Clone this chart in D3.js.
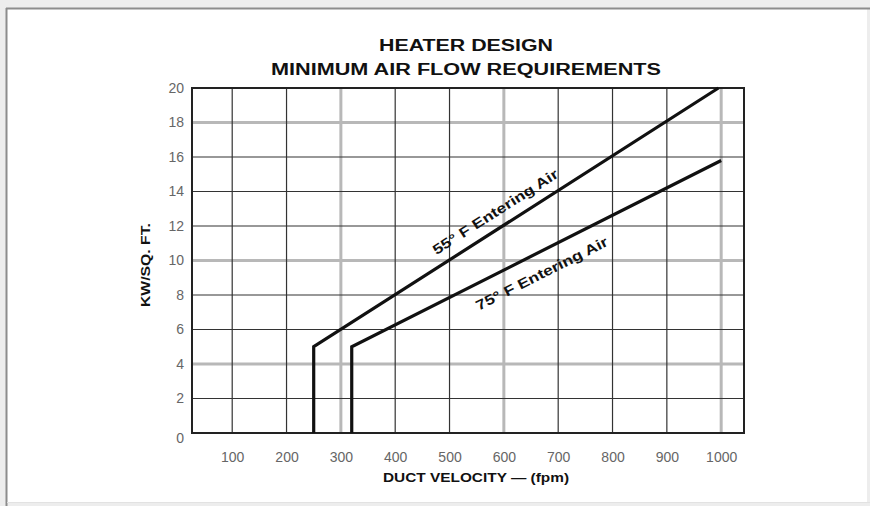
<!DOCTYPE html>
<html><head><meta charset="utf-8">
<script src="https://cdn.jsdelivr.net/npm/d3@7"></script>
<style>
body{margin:0;background:#ededed;}
svg{display:block;}
text{font-family:"Liberation Sans",Arial,Helvetica,sans-serif;}
</style>
</head><body>
<svg id="chart" width="870" height="506"></svg>
<script>
// ---- data ----
const titleLines = ["HEATER DESIGN", "MINIMUM AIR FLOW REQUIREMENTS"];
const xAxisTitle = "DUCT VELOCITY \u2014 (fpm)";
const yAxisTitle = "KW/SQ. FT.";
const xTicks = [100, 200, 300, 400, 500, 600, 700, 800, 900, 1000];
const yTicks = [0, 2, 4, 6, 8, 10, 12, 14, 16, 18, 20];
const xGridGray = [300, 600, 1000];
const xGridDark = [100, 200, 400, 500, 700, 800, 900];
const yGridGray = [4, 10, 18];
const yGridDark = [2, 6, 8, 12, 14, 16];
const series55 = [[250, 0], [250, 5], [995, 20]];
const series75 = [[320, 0], [320, 5], [1000, 15.8]];
const seriesLabels = ["55\u00B0 F Entering Air", "75\u00B0 F Entering Air"];
const labelAt = [600, 653];

// ---- layout ----
const svg = d3.select("#chart");
const L = 192, R = 744, T = 88, B = 433;
const x = d3.scaleLinear().domain([26, 1042]).range([L, R]);
const y = d3.scaleLinear().domain([0, 20]).range([B, T]);

// frame
svg.append("rect").attr("x", 7).attr("y", 9).attr("width", 860).attr("height", 493).attr("fill", "#fff");
svg.append("line").attr("x1", 6).attr("x2", 870).attr("y1", 8.5).attr("y2", 8.5).attr("stroke", "#8c8c8c").attr("stroke-width", 2);
svg.append("line").attr("x1", 6.5).attr("x2", 6.5).attr("y1", 8).attr("y2", 506).attr("stroke", "#8c8c8c").attr("stroke-width", 2);
svg.append("line").attr("x1", 7).attr("x2", 870).attr("y1", 502.5).attr("y2", 502.5).attr("stroke", "#e2e2e2").attr("stroke-width", 1);

// title
svg.selectAll("text.title").data(titleLines).join("text")
  .attr("class", "title")
  .attr("x", 466).attr("y", (d, i) => i === 0 ? 51 : 75)
  .attr("text-anchor", "middle")
  .attr("font-size", 16).attr("font-weight", "bold").attr("fill", "#111")
  .attr("textLength", (d, i) => i === 0 ? 174 : 390)
  .attr("lengthAdjust", "spacingAndGlyphs")
  .text(d => d);

// grid
const g = svg.append("g");
g.selectAll("line.gxg").data(xGridGray).join("line")
  .attr("class", "gxg")
  .attr("x1", d => x(d)).attr("x2", d => x(d)).attr("y1", T).attr("y2", B)
  .attr("stroke", "#b8b8b8").attr("stroke-width", 3);
g.selectAll("line.gyg").data(yGridGray).join("line")
  .attr("class", "gyg")
  .attr("y1", d => y(d)).attr("y2", d => y(d)).attr("x1", L).attr("x2", R)
  .attr("stroke", "#b8b8b8").attr("stroke-width", 3);
g.selectAll("line.gxd").data(xGridDark).join("line")
  .attr("class", "gxd")
  .attr("x1", d => x(d)).attr("x2", d => x(d)).attr("y1", T).attr("y2", B)
  .attr("stroke", "#333").attr("stroke-width", 1.2);
g.selectAll("line.gyd").data(yGridDark).join("line")
  .attr("class", "gyd")
  .attr("y1", d => y(d)).attr("y2", d => y(d)).attr("x1", L).attr("x2", R)
  .attr("stroke", "#333").attr("stroke-width", 1.2);

// plot border
svg.append("rect").attr("x", L).attr("y", T).attr("width", R - L).attr("height", B - T)
  .attr("fill", "none").attr("stroke", "#222").attr("stroke-width", 2);

// axes (labels only)
const xAxis = svg.append("g").attr("transform", `translate(0,${B})`)
  .call(d3.axisBottom(x).tickValues(xTicks).tickFormat(d3.format("d")).tickSize(0).tickPadding(19));
const yAxis = svg.append("g").attr("transform", `translate(${L},0)`)
  .call(d3.axisLeft(y).tickValues(yTicks).tickFormat(d3.format("d")).tickSize(0).tickPadding(8));
[xAxis, yAxis].forEach(a => {
  a.select(".domain").remove();
  a.selectAll("text").attr("font-size", 14).attr("fill", "#666")
    .attr("font-family", "\"Liberation Sans\",Arial,sans-serif");
});
yAxis.selectAll(".tick").filter(d => d === 0).select("text").attr("dy", "0.7em");

// axis titles
svg.append("text").attr("x", 476).attr("y", 482).attr("text-anchor", "middle")
  .attr("font-size", 12).attr("font-weight", "bold").attr("fill", "#111")
  .attr("textLength", 186).attr("lengthAdjust", "spacingAndGlyphs")
  .text(xAxisTitle);
svg.append("text").attr("transform", "translate(150,265) rotate(-90)").attr("text-anchor", "middle")
  .attr("font-size", 12).attr("font-weight", "bold").attr("fill", "#111")
  .attr("textLength", 84).attr("lengthAdjust", "spacingAndGlyphs")
  .text(yAxisTitle);

// series lines
const line = d3.line().x(d => x(d[0])).y(d => y(d[1]));
[series55, series75].forEach(s => {
  svg.append("path").datum(s).attr("d", line)
    .attr("fill", "none").attr("stroke", "#111").attr("stroke-width", 3.2)
    .attr("stroke-linejoin", "miter");
});

// series labels along the sloped segments
[series55, series75].forEach((s, i) => {
  const p0 = s[1], p1 = s[2];
  const dx = x(p1[0]) - x(p0[0]), dy = y(p1[1]) - y(p0[1]);
  const ang = Math.atan2(dy, dx) * 180 / Math.PI;
  const t = (labelAt[i] - p0[0]) / (p1[0] - p0[0]);
  const vy = p0[1] + t * (p1[1] - p0[1]);
  svg.append("text")
    .attr("transform", `translate(${x(labelAt[i])},${y(vy)}) rotate(${ang})`)
    .attr("dy", i === 0 ? -11 : 25)
    .attr("text-anchor", "middle")
    .attr("font-size", 14).attr("font-weight", "bold").attr("fill", "#111")
    .attr("textLength", 146).attr("lengthAdjust", "spacingAndGlyphs")
    .text(seriesLabels[i]);
});
</script>
</body></html>
